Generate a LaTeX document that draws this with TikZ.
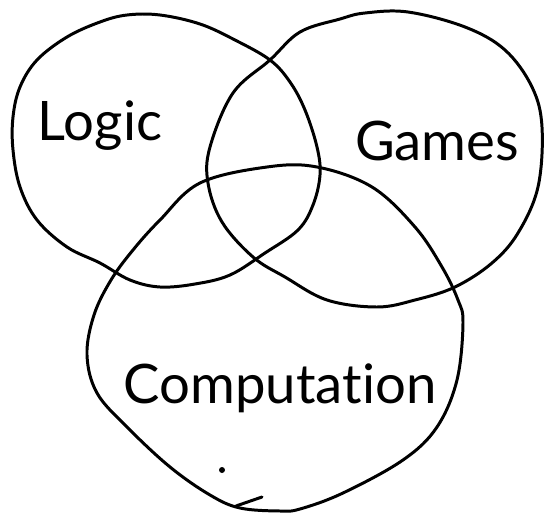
\documentclass[tikz,border=0pt]{standalone}
\usepackage{fontspec}
\setmainfont{Lato}[Ligatures=NoCommon]
\begin{document}
\begin{tikzpicture}[x=0.02cm, y=-0.02cm,
    ring/.style={draw=black, line width=1.7pt, line join=round},
    tag/.style={font=\fontsize{31}{36}\selectfont, text=black, inner sep=0pt, anchor=base}
]
    \useasboundingbox (0,0) rectangle (545,514);
    \draw[ring] plot[smooth cycle, tension=0.6] coordinates {
        (100,22) (127,15) (160,15) (200,24) (235,40) (270,60) (290,82) (305,110)
        (317,147) (320,175) (313,205) (298,230) (265,253) (230,275) (195,284)
        (160,287) (130,280) (100,263) (67,247) (37,220) (20,187) (13,150)
        (13,117) (20,87) (37,60) (67,37)};
    \draw[ring] plot[smooth cycle, tension=0.6] coordinates {
        (300,32) (340,19) (365,13) (408,12) (465,27) (505,50) (532,87) (542,127)
        (538,187) (518,233) (492,263) (455,287) (415,300) (377,307) (327,300)
        (285,277) (253,257) (222,222) (208,183) (210,147) (233,93) (270,60)};
    \draw[ring] plot[smooth cycle, tension=0.6] coordinates {
        (200,183) (267,167) (317,167) (372,187) (415,227) (442,267) (458,300)
        (463,323) (457,380) (437,427) (403,460) (343,493) (300,509) (280,511)
        (240,508) (210,495) (170,467) (127,427) (97,393) (87,355) (94,315)
        (111,280) (133,250) (160,220)};
    \fill (222,470) circle (3);
    \draw[ring, line cap=round] (236,506) -- (262,497);
    \node[tag] (logic) at (100,140) {Logic};
    \node[tag] (games) at (437,160) {Games};
    \node[tag] (computation) at (280,403) {Computation};
\end{tikzpicture}
\end{document}
